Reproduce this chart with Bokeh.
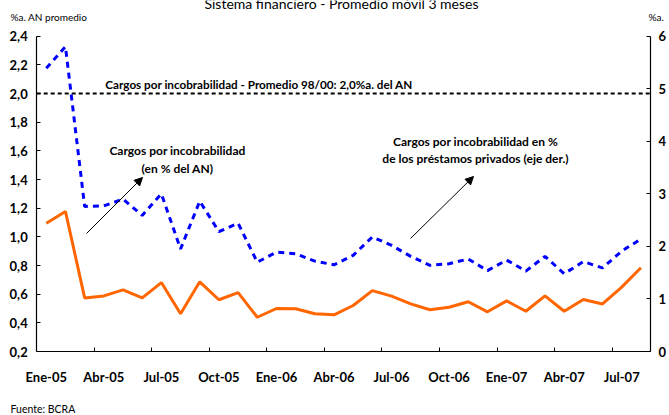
from bokeh.plotting import figure
from bokeh.models import Range1d, LinearAxis, FixedTicker, Arrow, NormalHead, Label
from bokeh.embed import file_html
from bokeh.resources import INLINE

# ---- data ----
meses_idx = list(range(32))  # Ene-05 .. Ago-07
etiquetas_x = ["Ene-05", "Abr-05", "Jul-05", "Oct-05", "Ene-06", "Abr-06",
               "Jul-06", "Oct-06", "Ene-07", "Abr-07", "Jul-07"]
pos_etiquetas_x = [0, 3, 6, 9, 12, 15, 18, 21, 24, 27, 30]

cargos_an = [1.095, 1.177, 0.574, 0.588, 0.630, 0.574, 0.681, 0.463, 0.686, 0.561,
             0.611, 0.439, 0.500, 0.498, 0.463, 0.456, 0.521, 0.625, 0.586, 0.532,
             0.491, 0.509, 0.547, 0.477, 0.553, 0.481, 0.588, 0.481, 0.563, 0.532,
             0.649, 0.784]
cargos_prestamos = [5.39, 5.80, 2.76, 2.77, 2.90, 2.59, 3.00, 1.95, 2.86, 2.28,
                    2.44, 1.70, 1.89, 1.86, 1.72, 1.65, 1.83, 2.18, 2.02, 1.81,
                    1.64, 1.67, 1.76, 1.54, 1.74, 1.53, 1.81, 1.48, 1.71, 1.59,
                    1.91, 2.14]
promedio_98_00 = 2.0

ticks_izq = [0.2, 0.4, 0.6, 0.8, 1.0, 1.2, 1.4, 1.6, 1.8, 2.0, 2.2, 2.4]
etiquetas_izq = ["0,2", "0,4", "0,6", "0,8", "1,0", "1,2", "1,4", "1,6", "1,8", "2,0", "2,2", "2,4"]
ticks_der = [0, 1, 2, 3, 4, 5, 6]
etiquetas_der = ["0", "1", "2", "3", "4", "5", "6"]

X_MIN, X_MAX = -0.5, 31.5
YL_MIN, YL_MAX = 0.2, 2.4
YR_MIN, YR_MAX = 0, 6

FONT = "Lato"
W, H = 669, 415
# plot area (axes box) in canvas pixels
PL, PR, PT, PB = 36.2, 650.0, 35.7, 351.0

kx = (X_MAX - X_MIN) / (PR - PL)
kl = (YL_MAX - YL_MIN) / (PB - PT)
kr = (YR_MAX - YR_MIN) / (PB - PT)

def px2x(px):
    return X_MIN + (px - PL) * kx

def py2y(py):
    return YL_MAX - (py - PT) * kl

x_range = Range1d(X_MIN - PL * kx, X_MAX + (W - PR) * kx)
y_range = Range1d(YL_MIN - (H - PB) * kl, YL_MAX + PT * kl)

p = figure(width=W, height=H, x_range=x_range, y_range=y_range,
           output_backend="svg", toolbar_location=None, x_axis_location=None,
           y_axis_location=None)
p.min_border = 0
p.extra_y_ranges = {"der": Range1d(YR_MIN - (H - PB) * kr, YR_MAX + PT * kr)}
p.grid.visible = False
p.outline_line_color = None

def style_axis(ax):
    ax.axis_line_color = "black"
    ax.axis_line_width = 1.2
    ax.major_tick_line_color = "black"
    ax.major_tick_in = 4
    ax.major_tick_out = 0
    ax.minor_tick_line_color = None
    ax.major_label_text_font = FONT
    ax.major_label_text_font_style = "bold"
    ax.major_label_text_font_size = "13px"
    ax.major_label_text_color = "black"

# left axis
ay = LinearAxis(fixed_location=X_MIN, bounds=(YL_MIN, YL_MAX))
style_axis(ay)
ay.ticker = FixedTicker(ticks=ticks_izq)
ay.major_label_overrides = dict(zip(ticks_izq, etiquetas_izq))
ay.major_label_standoff = 9
p.add_layout(ay, "left")

# right axis
ad = LinearAxis(y_range_name="der", fixed_location=X_MAX, bounds=(YR_MIN, YR_MAX))
style_axis(ad)
ad.ticker = FixedTicker(ticks=ticks_der)
ad.major_label_overrides = dict(zip(ticks_der, etiquetas_der))
ad.major_label_standoff = 8
p.add_layout(ad, "right")

# bottom axis
ax = LinearAxis(fixed_location=YL_MIN, bounds=(X_MIN, X_MAX))
style_axis(ax)
limites = [i + 2.5 for i in pos_etiquetas_x[:-1]]
ax.ticker = FixedTicker(ticks=pos_etiquetas_x, minor_ticks=limites)
ax.major_tick_line_color = None
ax.minor_tick_line_color = "black"
ax.minor_tick_in = 4
ax.minor_tick_out = 0
ax.major_label_overrides = dict(zip(pos_etiquetas_x, etiquetas_x))
ax.major_label_standoff = 17
p.add_layout(ax, "below")

# series
p.line(meses_idx, cargos_prestamos, y_range_name="der", line_color="#0000FF",
       line_width=3, line_dash="6 5")
p.line(meses_idx, cargos_an, line_color="#FF6600", line_width=3)

# reference line: average 98/00
p.line([X_MIN, X_MAX], [promedio_98_00, promedio_98_00], line_color="black",
       line_width=2, line_dash="4 3")

def lab(x, y, text, size="11.7px", bold=True, align="center", base="middle"):
    p.add_layout(Label(x=x, y=y, text=text, text_font=FONT,
                       text_font_style="bold" if bold else "normal",
                       text_font_size=size, text_align=align, text_baseline=base,
                       text_color="black"))

lab(px2x(260), py2y(83), "Cargos por incobrabilidad  - Promedio 98/00: 2,0%a. del AN")
lab(px2x(177), py2y(150.3), "Cargos por incobrabilidad", size="12px")
lab(px2x(177), py2y(167.5), "(en % del AN)", size="12px")
lab(px2x(475), py2y(141), "Cargos por incobrabilidad en %", size="12px")
lab(px2x(475), py2y(158), "de los préstamos privados (eje der.)", size="12px")

def flecha(x0, y0, x1, y1):
    p.add_layout(Arrow(x_start=px2x(x0), y_start=py2y(y0), x_end=px2x(x1), y_end=py2y(y1),
                       line_width=1, line_color="black",
                       end=NormalHead(size=8, fill_color="black", line_color="black")))

flecha(86, 233, 142, 177)
flecha(410, 238, 473, 176)

# title (cut at top as in the reference), axis units and source
lab(px2x(341), py2y(2.5), "Sistema financiero - Promedio móvil 3 meses", size="14px",
    bold=False)
lab(px2x(10), py2y(16), "%a. AN promedio", size="10px", bold=False, align="left")
lab(px2x(648), py2y(16), "%a.", size="10px", bold=False, align="left")
lab(px2x(10), py2y(408), "Fuente: BCRA", size="10.5px", bold=False, align="left")

open("out.html", "w").write(file_html(p, INLINE))
